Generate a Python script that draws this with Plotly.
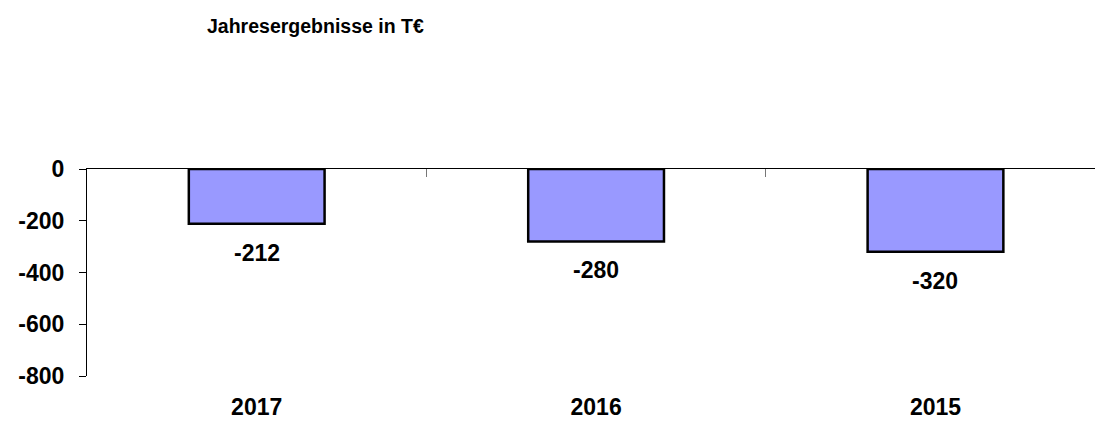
import plotly.graph_objects as go

# Jahresergebnisse (T€) je Geschäftsjahr
years = ["2017", "2016", "2015"]
results = [-212, -280, -320]
y_ticks = [0, -200, -400, -600, -800]
y_tick_text = ["0", "-200", "-400", "-600", "-800"]

FONT = "Arial, 'Liberation Sans', sans-serif"
W, H = 1095, 421

fig = go.Figure()

fig.add_trace(go.Bar(
    x=list(range(len(years))),
    y=results,
    width=0.4,
    marker=dict(color="#9999FF", line=dict(color="black", width=2.5)),
    hoverinfo="skip",
    showlegend=False,
))

# value labels below each bar
for i, v in enumerate(results):
    fig.add_annotation(
        x=i, y=v, text=f"<b>{v}</b>", showarrow=False,
        xanchor="center", yanchor="top", yshift=-14,
        font=dict(family=FONT, size=23, color="black"),
    )

# invisible trace on the top axis so it gets drawn as the zero line
fig.add_trace(go.Scatter(
    x=[0], y=[0], xaxis="x2", mode="markers",
    marker=dict(opacity=0), hoverinfo="skip", showlegend=False,
))

fig.update_layout(
    width=W, height=H,
    margin=dict(l=87, r=0, t=169, b=45),
    paper_bgcolor="white", plot_bgcolor="white",
    title=dict(
        text="<b>Jahresergebnisse in T€</b>",
        xref="container", yref="container",
        x=207 / W, xanchor="left",
        y=1 - 26 / H, yanchor="middle",
        font=dict(family=FONT, size=19.5, color="black"),
    ),
    xaxis=dict(
        range=[-0.5, 2.47],
        tickvals=list(range(len(years))), ticktext=[f"<b>{y}</b>" for y in years],
        ticks="", showline=False, showgrid=False, zeroline=False,
        tickfont=dict(family=FONT, size=23, color="black"),
        ticklabelstandoff=15,
    ),
    xaxis2=dict(
        overlaying="x", side="top", matches="x",
        range=[-0.5, 2.47],
        showline=True, linecolor="black", linewidth=1,
        ticks="inside", tickvals=[0.5, 1.5], ticklen=8,
        tickcolor="#777777", tickwidth=1,
        showticklabels=False, showgrid=False, zeroline=False,
    ),
    yaxis=dict(
        range=[-800, 0],
        tickvals=y_ticks, ticktext=[f"<b>{t}</b>" for t in y_tick_text],
        showline=True, linecolor="black", linewidth=1,
        ticks="outside", ticklen=7, tickcolor="black", tickwidth=1,
        showgrid=False, zeroline=False,
        tickfont=dict(family=FONT, size=23, color="black"),
        ticklabelstandoff=10,
    ),
)

fig.write_html("out.html")
